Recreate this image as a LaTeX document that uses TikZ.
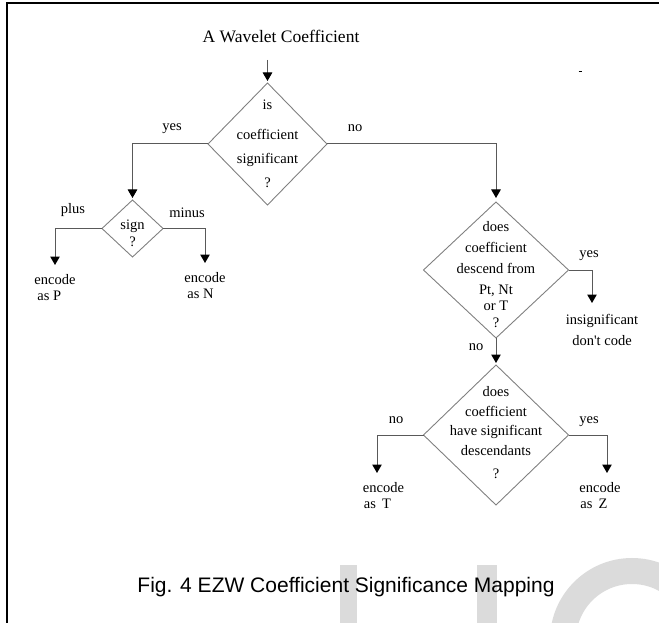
\documentclass[tikz,border=0pt]{standalone}
\usepackage{fontspec}
\setmainfont{Liberation Serif}
\newfontfamily\capfont{Liberation Sans}
\usetikzlibrary{shapes.geometric,arrows.meta}

\tikzset{
  decision/.style={shape=diamond, draw=black!50, line width=0.9pt, inner sep=0pt, outer sep=0pt},
  qtext/.style={align=center, inner sep=0pt},
  leaf/.style={align=left, anchor=north, inner xsep=0pt, inner ysep=9pt,
               font=\fontsize{14.5}{16.5}\selectfont},
  branch/.style={anchor=base, inner sep=0pt, font=\fontsize{14.5}{16}\selectfont},
  flow/.style={draw=black!65, line width=1pt,
               -{Triangle[width=9.5pt,length=8.5pt,color=black]}},
  wmark/.style={fill=black!14, draw=none},
}

\begin{document}
\begin{tikzpicture}[x=1pt,y=-1pt]
\useasboundingbox (0,0) rectangle (659,623);

% faint watermark letters behind the figure
\begin{scope}
  \clip (0,0) rectangle (659,623);
  \fill[wmark] (340,565) rectangle (357,623);
  \fill[wmark] (477,565) rectangle (497,623);
  \draw[black!14, line width=26pt] (632,640) circle[radius=69pt];
\end{scope}

% page frame
\draw[black, line width=2pt] (659,3.5) -- (6.5,3.5) -- (6.5,623);
\draw[black, line width=1pt] (578.5,72) -- (581.5,72);

% input
\node[font=\fontsize{17.5}{20}\selectfont, anchor=base, inner sep=0pt] (title) at (281,43) {A Wavelet Coefficient};
\coordinate (start) at (267.5,60);

% decisions
\node[decision, minimum width=119pt, minimum height=122pt] (d1) at (267.5,144) {};
\node[decision, minimum width=61pt, minimum height=57pt] (sgn) at (132.5,228.5) {};
\node[decision, minimum width=145pt, minimum height=136pt] (d2) at (496,270) {};
\node[decision, minimum width=145pt, minimum height=140pt] (d3) at (496,435) {};

\node[qtext, font=\fontsize{14.5}{24}\selectfont] (t1) at (267.5,144.2)
  {is\\[6pt]coefficient\\significant\\?};
\node[qtext, font=\fontsize{14.5}{17}\selectfont] (ts) at (132.5,233.5)
  {sign\\?};
\node[qtext, font=\fontsize{14.5}{21}\selectfont] (t2) at (496,274.5)
  {does\\coefficient\\descend from\\Pt, Nt\\[-5pt]or T\\[-4pt]?};
\node[qtext, font=\fontsize{14.5}{19.5}\selectfont] (t3) at (496,432.5)
  {does\\coefficient\\have significant\\descendants\\[3.5pt]?};

% outcomes
\node[leaf] (encP) at (55,265) {encode\\\hspace{3pt}as P};
\node[leaf] (encN) at (205,263) {encode\\\hspace{3pt}as N};
\node[leaf, align=center, inner ysep=11.5pt, font=\fontsize{14.5}{21}\selectfont] (ins) at (602,303)
  {insignificant\\don\textquotesingle t code};
\node[leaf] (encT) at (383.5,473) {encode\\\hspace{1pt}as\hspace{6pt}T};
\node[leaf] (encZ) at (600,473) {encode\\\hspace{1pt}as\hspace{6pt}Z};

% connectors
\draw[flow, shorten >=2pt] (start) -- (d1.north);
\draw[flow, shorten >=2pt] (d1.west) -| (sgn.north);
\draw[flow, shorten >=4pt] (d1.east) -| (d2.north);
\draw[flow] (sgn.west) -| (encP.north);
\draw[flow] (sgn.east) -| (encN.north);
\draw[flow] (d2.east) -| ([xshift=-10pt]ins.north);
\draw[flow, shorten >=2pt] (d2.south) -- (d3.north);
\draw[flow] (d3.west) -| ([xshift=-6.5pt]encT.north);
\draw[flow] (d3.east) -| ([xshift=7pt]encZ.north);

% branch labels
\node[branch] (ly1) at (172,131) {yes};
\node[branch] (ln1) at (355,132) {no};
\node[branch] (lp) at (73,213.5) {plus};
\node[branch] (lm) at (187,218) {minus};
\node[branch] (ly2) at (589,257) {yes};
\node[branch] (ln2) at (476,350.5) {no};
\node[branch] (ln3) at (396,423.5) {no};
\node[branch] (ly3) at (589,423.5) {yes};

% caption
\node[font=\capfont\fontsize{21}{24}\selectfont, anchor=base, inner sep=0pt] (cap) at (346,592)
  {Fig. 4 EZW Coefficient Significance Mapping};
\end{tikzpicture}
\end{document}
